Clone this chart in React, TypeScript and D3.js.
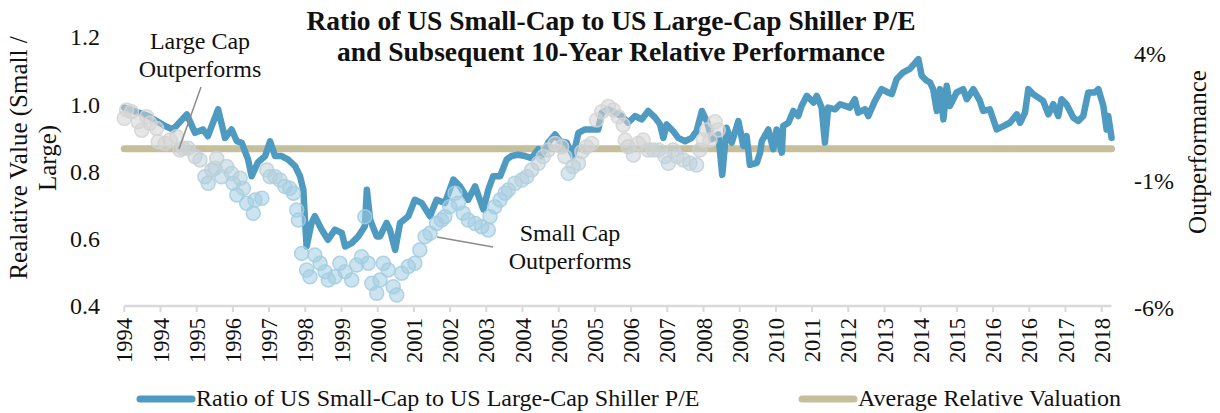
import React, { useEffect, useRef } from "react";
import * as d3 from "d3";

// months since Jan 1994 and the small/large Shiller P/E ratio
const ratioMonths = [
  0, 7.3, 12.4, 14.8, 19.0, 21.5, 23.9, 25.4, 28.5, 30.6, 32.6, 34.2, 35.7, 37.6, 38.7, 40.6, 42.8, 44.3, 45.8, 47.8,
  49.7, 51.9, 53.4, 54.4, 54.9, 55.4, 56.9, 57.9, 60.0, 61.9, 64.0, 66.1, 67.1, 69.1, 71.1, 73.1, 73.7, 74.7, 76.7, 77.7,
  79.7, 80.7, 82.3, 83.8, 86.3, 88.3, 90.4, 92.9, 94.9, 97.4, 100.0, 102.0, 104.5, 106.6, 109.1, 110.6, 112.1, 114.2, 116.2, 117.7,
  119.7, 121.8, 123.8, 125.8, 126.8, 128.8, 130.9, 132.4, 134.4, 136.4, 138.0, 140.0, 142.5, 144.0, 145.1, 147.1, 149.1, 151.1, 153.1, 155.2,
  157.2, 159.2, 161.3, 162.8, 163.8, 164.8, 166.8, 168.3, 170.4, 172.4, 173.9, 175.5, 177.0, 178.5, 180.5, 181.7, 183.0, 184.6, 186.6, 188.1,
  189.1, 190.1, 192.2, 193.2, 193.7, 195.7, 197.2, 198.2, 199.8, 200.2, 201.8, 203.3, 204.8, 205.8, 207.4, 209.4, 210.4, 211.9, 212.9, 213.9,
  216.0, 217.5, 219.0, 220.5, 222.0, 223.0, 225.1, 226.1, 228.1, 230.1, 232.1, 233.2, 234.7, 236.7, 238.7, 241.3, 242.3, 243.8, 244.8, 245.8,
  246.9, 247.9, 248.9, 249.9, 250.9, 252.9, 254.9, 256.0, 258.0, 260.0, 261.0, 263.0, 265.1, 267.1, 269.1, 271.2, 272.2, 273.7, 274.7, 276.2,
  279.2, 280.8, 282.3, 283.8, 284.8, 286.3, 288.4, 289.9, 291.4, 292.9, 294.9, 296.0, 297.5, 298.5, 299.0, 300.0,
];
const ratioValues = [
  0.99, 0.965, 0.935, 0.925, 0.97, 0.915, 0.925, 0.905, 0.985, 0.9, 0.925, 0.89, 0.885, 0.836, 0.786, 0.827, 0.846, 0.89, 0.846, 0.846,
  0.836, 0.816, 0.786, 0.746, 0.657, 0.577, 0.647, 0.667, 0.627, 0.597, 0.627, 0.617, 0.577, 0.587, 0.607, 0.637, 0.746, 0.657, 0.607, 0.607,
  0.647, 0.627, 0.567, 0.647, 0.667, 0.716, 0.706, 0.667, 0.716, 0.706, 0.776, 0.756, 0.716, 0.756, 0.687, 0.746, 0.786, 0.786, 0.836, 0.846,
  0.85, 0.846, 0.84, 0.866, 0.846, 0.886, 0.91, 0.89, 0.886, 0.846, 0.915, 0.925, 0.925, 0.925, 0.975, 0.985, 0.975, 0.965, 0.945, 0.965,
  0.955, 0.98, 0.96, 0.94, 0.9, 0.94, 0.92, 0.9, 0.89, 0.9, 0.92, 0.98, 0.95, 0.896, 0.91, 0.79, 0.93, 0.886, 0.95, 0.876,
  0.905, 0.82, 0.826, 0.856, 0.89, 0.925, 0.866, 0.925, 0.856, 0.935, 0.945, 0.98, 0.965, 0.995, 1.025, 1.005, 1.025, 0.99, 0.886, 0.99,
  0.985, 1.0, 0.995, 0.99, 1.015, 0.975, 0.985, 0.965, 1.01, 1.045, 1.035, 1.03, 1.075, 1.095, 1.105, 1.134, 1.085, 1.07, 1.065, 1.045,
  0.98, 1.045, 0.955, 1.055, 0.995, 1.035, 1.045, 1.015, 1.045, 1.01, 0.98, 0.985, 0.925, 0.935, 0.945, 0.97, 0.945, 0.975, 1.045, 1.03,
  1.01, 0.97, 1.0, 0.965, 1.015, 1.0, 0.96, 0.95, 0.965, 1.035, 1.035, 1.045, 0.995, 0.925, 0.965, 0.9,
];

// subsequent 10-year relative performance (%), right axis
const perfMonths = [
  0, 0.7, 2.2, 4.2, 5.3, 6.8, 7.8, 9.8, 10.3, 12.4, 13.9, 15.9, 16.9, 17.9, 19.4, 21.5, 23.0, 24.5, 25.5, 26.6,
  27.6, 28.1, 29.6, 31.1, 32.6, 33.1, 34.2, 35.2, 36.2, 37.2, 39.2, 39.7, 41.8, 43.3, 44.3, 45.8, 47.3, 48.8, 50.3, 51.4,
  52.4, 52.9, 53.9, 55.4, 56.4, 57.9, 59.5, 61.0, 62.0, 64.0, 65.5, 67.1, 69.1, 70.6, 72.1, 73.1, 74.1, 75.2, 76.7, 77.7,
  78.7, 80.2, 81.7, 82.8, 84.3, 86.3, 88.3, 89.8, 91.4, 92.9, 94.9, 96.4, 97.4, 98.9, 100.5, 101.5, 103.0, 104.5, 106.6, 108.6,
  110.6, 111.1, 112.6, 114.2, 115.7, 116.7, 118.7, 120.8, 122.3, 123.8, 125.8, 127.3, 128.8, 130.9, 132.9, 133.9, 134.9, 136.4, 138.0, 139.0,
  140.5, 142.0, 143.5, 145.1, 147.1, 148.6, 150.1, 151.6, 152.2, 153.1, 154.7, 156.2, 157.7, 159.2, 160.7, 162.3, 164.3, 165.3, 166.8, 167.9,
  169.9, 171.9, 173.9, 174.9, 175.9, 177.0, 178.0, 179.5, 180.5,
];
const perfValues = [
  1.47, 1.8, 1.73, 1.33, 1.0, 1.53, 1.27, 1.07, 0.55, 0.48, 0.61, 0.74, 0.22, 0.29, 0.29, -0.04, -0.17, -0.83, -1.09, -0.57,
  -0.5, -0.11, -0.83, -0.43, -0.7, -1.09, -1.55, -0.89, -1.29, -1.88, -2.27, -1.75, -1.68, -0.57, -0.83, -0.83, -0.96, -1.22, -1.29, -1.48,
  -2.14, -2.54, -3.85, -4.5, -4.77, -3.91, -4.24, -4.57, -4.9, -4.77, -4.24, -4.57, -4.9, -4.31, -3.98, -2.41, -4.24, -5.03, -5.42, -4.9,
  -4.24, -4.5, -5.16, -5.49, -4.63, -4.37, -4.24, -3.72, -3.19, -3.06, -2.67, -2.54, -2.41, -2.01, -1.48, -1.88, -2.27, -2.54, -2.67, -2.8,
  -2.93, -2.41, -2.01, -1.75, -1.48, -1.35, -1.09, -0.96, -0.83, -0.57, -0.3, -0.04, 0.22, 0.48, 0.35, -0.04, -0.7, -0.43, -0.3, 0.15,
  0.35, 0.48, 1.4, 1.73, 1.93, 1.8, 1.53, 1.2, 0.61, 0.35, 0.02, 0.48, 0.61, 0.22, 0.22, 0.22, -0.04, -0.3, 0.22, -0.04,
  -0.17, -0.3, -0.37, 0.22, 0.61, 1.01, 0.61, 1.33, 1.01,
];

const averageValuation = 0.868;
const leftTicks = [0.4, 0.6, 0.8, 1.0, 1.2];
const rightTicks = [-6, -1, 4];
// category labels, one every 11 months from Jan 1994
const tickLabels = [
  "1994", "1994", "1995", "1996", "1997", "1998", "1999", "2000", "2001", "2002", "2003", "2004", "2005", "2005",
  "2006", "2007", "2008", "2009", "2010", "2011", "2012", "2013", "2014", "2015", "2016", "2016", "2017", "2018",
];
const tickStep = 11;

const FONT = "'Liberation Serif', 'Times New Roman', serif";

const App = () => {
  const ref = useRef<SVGSVGElement>(null);

  useEffect(() => {
    const width = 1220;
    const height = 413;
    const svg = d3.select(ref.current).attr("width", width).attr("height", height);
    svg.selectAll("*").remove();

    const x = d3.scaleLinear().domain([0, 297]).range([124.3, 1101.7]);
    const y = d3.scaleLinear().domain([0.4, 1.2]).range([306, 37]);
    const yR = d3.scaleLinear().domain([-6, 4]).range([308, 54]);

    const g = svg.append("g").style("font-family", FONT).style("fill", "#111");

    // x axis line + ticks
    g.append("line")
      .attr("x1", x(0)).attr("x2", x(300))
      .attr("y1", y(0.4)).attr("y2", y(0.4))
      .attr("stroke", "#d9d9d9").attr("stroke-width", 2.5);

    const ticks = tickLabels.map((label, i) => ({ label, m: i * tickStep }));
    g.selectAll(".tick")
      .data(ticks)
      .enter()
      .append("line")
      .attr("x1", (d) => x(d.m)).attr("x2", (d) => x(d.m))
      .attr("y1", y(0.4)).attr("y2", y(0.4) + 6)
      .attr("stroke", "#d9d9d9").attr("stroke-width", 2);

    g.selectAll(".xlabel")
      .data(ticks)
      .enter()
      .append("text")
      .attr("transform", (d) => `translate(${x(d.m) + 8},318) rotate(-90)`)
      .attr("text-anchor", "end")
      .style("font-size", "22.5px")
      .text((d) => d.label);

    // left axis labels
    g.selectAll(".ylabel")
      .data(leftTicks)
      .enter()
      .append("text")
      .attr("x", 100)
      .attr("y", (d) => y(d))
      .attr("dy", "0.35em")
      .attr("text-anchor", "end")
      .style("font-size", "24px")
      .text((d) => d.toFixed(1));

    // right axis labels
    g.selectAll(".rlabel")
      .data(rightTicks)
      .enter()
      .append("text")
      .attr("x", 1134)
      .attr("y", (d) => yR(d))
      .attr("dy", "0.35em")
      .style("font-size", "24px")
      .text((d) => `${d}%`);

    // axis titles
    const leftTitle = ["Realative Value (Small /", "Large)"];
    g.selectAll(".ltitle")
      .data(leftTitle)
      .enter()
      .append("text")
      .attr("transform", (d, i) => `translate(${27 + i * 29},158) rotate(-90)`)
      .attr("text-anchor", "middle")
      .style("font-size", "25px")
      .text((d) => d);

    g.append("text")
      .attr("transform", "translate(1206,152) rotate(-90)")
      .attr("text-anchor", "middle")
      .style("font-size", "25px")
      .text("Outperformance");

    // average line
    g.append("line")
      .attr("x1", x(0)).attr("x2", x(300))
      .attr("y1", y(averageValuation)).attr("y2", y(averageValuation))
      .attr("stroke", "#c5bf9b").attr("stroke-width", 7).attr("stroke-linecap", "round");

    // ratio line
    const ratio = ratioMonths.map((m, i) => ({ m, v: ratioValues[i] }));
    const line = d3.line<{ m: number; v: number }>()
      .x((d) => x(d.m))
      .y((d) => y(d.v));
    g.append("path")
      .datum(ratio)
      .attr("d", line)
      .attr("fill", "none")
      .attr("stroke", "#4e9ac1")
      .attr("stroke-width", 6.5)
      .attr("stroke-linejoin", "round")
      .attr("stroke-linecap", "round");

    // subsequent performance bubbles
    const perf = perfMonths.map((m, i) => ({ m, p: perfValues[i] }));
    const color = d3.scaleLinear<string>()
      .domain([-1.5, 0.6])
      .range(["#a3cde2", "#d5d3d3"])
      .clamp(true);
    g.selectAll(".perf")
      .data(perf)
      .enter()
      .append("circle")
      .attr("cx", (d) => x(d.m))
      .attr("cy", (d) => yR(d.p))
      .attr("r", 7)
      .attr("fill", (d) => color(d.p))
      .attr("fill-opacity", 0.55)
      .attr("stroke", (d) => color(d.p))
      .attr("stroke-opacity", 0.85)
      .attr("stroke-width", 1.5);

    // title
    const title = ["Ratio of US Small-Cap to US Large-Cap Shiller P/E", "and Subsequent 10-Year Relative Performance"];
    g.selectAll(".title")
      .data(title)
      .enter()
      .append("text")
      .attr("x", 611)
      .attr("y", (d, i) => 30 + i * 31)
      .attr("text-anchor", "middle")
      .style("font-size", "27.5px")
      .style("font-weight", "bold")
      .text((d) => d);

    // annotations
    const notes = [
      { lines: ["Large Cap", "Outperforms"], cx: 200, by: 49, from: [201, 87], to: [179, 149] },
      { lines: ["Small Cap", "Outperforms"], cx: 570, by: 241, from: [493, 247], to: [437, 237] },
    ];
    notes.forEach((n) => {
      n.lines.forEach((t, i) => {
        g.append("text")
          .attr("x", n.cx)
          .attr("y", n.by + i * 28)
          .attr("text-anchor", "middle")
          .style("font-size", "24px")
          .text(t);
      });
      g.append("line")
        .attr("x1", n.from[0]).attr("y1", n.from[1])
        .attr("x2", n.to[0]).attr("y2", n.to[1])
        .attr("stroke", "#8c8c8c").attr("stroke-width", 1.5);
    });

    // legend
    const legend = [
      { label: "Ratio of US Small-Cap to US Large-Cap Shiller P/E", color: "#4e9ac1", x0: 140 },
      { label: "Average Relative Valuation", color: "#c5bf9b", x0: 802 },
    ];
    legend.forEach((l) => {
      g.append("line")
        .attr("x1", l.x0).attr("x2", l.x0 + 52)
        .attr("y1", 399).attr("y2", 399)
        .attr("stroke", l.color).attr("stroke-width", 7).attr("stroke-linecap", "round");
      g.append("text")
        .attr("x", l.x0 + 56)
        .attr("y", 406)
        .style("font-size", "24px")
        .text(l.label);
    });
  }, []);

  return (
    <svg
      ref={ref}
      style={{ position: "absolute", left: 0, top: 0, background: "#fff" }}
    ></svg>
  );
};

export default App;
